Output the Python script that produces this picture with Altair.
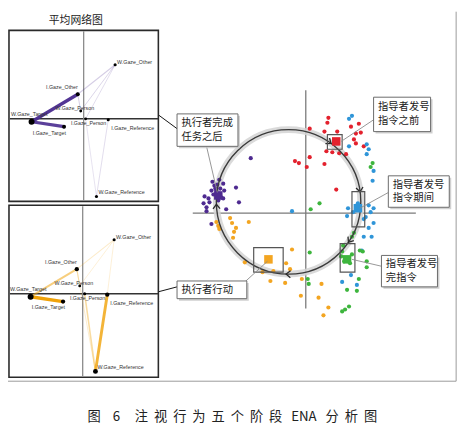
import math
import altair as alt
import pandas as pd

# ---------------- mean-network panels (ENA node positions, shared by both panels) ----------------
node_names = ["W.Gaze_Other", "I.Gaze_Other", "W.Gaze_Person", "W.Gaze_Target",
              "I.Gaze_Person", "I.Gaze_Reference", "I.Gaze_Target", "W.Gaze_Reference"]
node_x = [0.64, -0.12, -0.06, -1.06, 0.04, 0.50, -0.40, 0.26]
node_y = [1.10, 0.50, 0.16, -0.06, 0.00, -0.02, -0.16, -1.58]
node_w_top = [0.1, 0.3, 0.05, 1.0, 0.05, 0.1, 0.3, 0.1]
node_w_bottom = [0.1, 0.4, 0.05, 1.0, 0.1, 0.4, 0.4, 0.6]

# label placement (px offsets from node) - layout only
lab_dx = [2, 0, -6, -21, 3, 3, 2, 2]
lab_dy = [-3, -7, -3, -8, 4.5, 8, 6, -4]
lab_align = ["left", "right", "center", "left", "center", "left", "right", "left"]

# edges of the top (purple) network
top_from = ["W.Gaze_Target", "W.Gaze_Target", "I.Gaze_Other", "W.Gaze_Person", "I.Gaze_Person",
            "I.Gaze_Reference", "I.Gaze_Person", "I.Gaze_Other"]
top_to = ["I.Gaze_Other", "I.Gaze_Target", "W.Gaze_Other", "W.Gaze_Other", "W.Gaze_Other",
          "W.Gaze_Reference", "W.Gaze_Reference", "W.Gaze_Person"]
top_w = [0.9, 0.85, 0.14, 0.1, 0.08, 0.08, 0.06, 0.12]

# edges of the bottom (orange) network
bot_from = ["W.Gaze_Target", "W.Gaze_Target", "I.Gaze_Reference", "I.Gaze_Person", "I.Gaze_Other",
            "I.Gaze_Other", "I.Gaze_Reference", "W.Gaze_Person", "I.Gaze_Other"]
bot_to = ["I.Gaze_Target", "I.Gaze_Other", "W.Gaze_Reference", "W.Gaze_Reference", "W.Gaze_Other",
          "W.Gaze_Reference", "W.Gaze_Other", "W.Gaze_Other", "W.Gaze_Person"]
bot_w = [0.95, 0.45, 0.75, 0.3, 0.12, 0.1, 0.08, 0.08, 0.15]

# ---------------- five-stage ENA scatter ----------------
stage_names = ["指导者发号指令之前", "指导者发号指令期间", "指导者发号完指令", "执行者行动", "执行者完成任务之后"]
stage_colors = ["#e3212d", "#2f95d8", "#3db53d", "#f3a521", "#4e2a90"]

red_x = [0.23, 0.22, 0.04, 0.19, 0.32, 0.46, 0.54, 0.51, 0.56, 0.51, 0.59, 0.49, 0.27, 0.34, 0.41, 0.21,
         0.04, -0.11, -0.07, 0.01, 0.19, 0.31]
red_y = [0.97, 0.92, 0.86, 0.83, 0.83, 0.88, 0.91, 0.81, 0.82, 0.71, 0.68, 0.75, 0.62, 0.61, 0.60, 0.63,
         0.57, 0.53, 0.51, 0.47, 0.50, 0.24]
blue_x = [0.44, 0.47, 0.44, 0.62, 0.64, 0.62, 0.69, 0.68, -0.14, 0.64, 0.69, 0.66, 0.61, 0.69, 0.64, 0.67,
          0.59, 0.57, 0.42, 0.43, 0.37, 0.52, 0.46, 0.59, 0.53, 0.48]
blue_y = [0.96, 0.99, 0.68, 0.70, 0.65, 0.60, 0.43, 0.33, 0.02, 0.08, 0.05, 0.01, -0.04, -0.10, -0.15, -0.24,
          -0.24, -0.38, -0.03, 0.05, -0.70, -0.73, -0.63, -0.06, 0.10, 0.01]
green_x = [0.66, 0.68, 0.14, 0.05, 0.49, 0.47, 0.04, 0.55, 0.58, 0.62, 0.62, 0.54, 0.52, 0.42, 0.44, 0.37,
           0.40, 0.02, 0.03, 0.37, 0.39, 0.45, 0.36, 0.47, 0.38]
green_y = [0.47, 0.51, 0.10, 0.04, -0.20, -0.24, -0.40, -0.38, -0.39, -0.49, -0.55, -0.67, -0.79, -0.78,
           -0.95, -1.00, -0.98, -0.67, -0.72, -0.39, -0.49, -0.51, -0.44, -0.42, -0.33]
orange_x = [-0.91, -0.89, -0.88, -0.77, -0.75, -0.73, -0.74, -0.71, -0.58, -0.62, -0.44, -0.36, -0.33,
            -0.21, -0.20, -0.14, -0.04, -0.05, 0.13, 0.16, 0.23, 0.18, -0.16]
orange_y = [-0.09, -0.13, -0.16, -0.05, -0.10, -0.19, -0.25, -0.15, -0.09, -0.50, -0.60, -0.69, -0.59,
            -0.71, -0.51, -0.37, -0.67, -0.84, -0.86, -0.72, -0.96, -1.04, -0.57]
purple_x = [-0.56, -0.88, -0.84, -0.93, -0.96, -0.91, -0.88, -0.94, -0.86, -0.99, -1.04, -1.01, -1.01,
            -0.81, -0.71, -0.68, -0.96, -0.84, -0.89, -0.98, -0.92, -0.87, -0.83, -1.03, -0.90, -0.95]
purple_y = [0.56, 0.34, 0.30, 0.28, 0.23, 0.23, 0.20, 0.19, 0.16, 0.15, 0.10, 0.06, 0.02,
            0.04, 0.26, 0.11, -0.11, 0.15, 0.13, 0.11, 0.25, 0.25, 0.23, 0.17, 0.29, 0.32]

centroid_x = [0.31, 0.53, 0.42, -0.38, -0.89]
centroid_y = [0.73, 0.05, -0.47, -0.47, 0.18]

# boxes drawn around four of the stage centroids
cbox_x1 = [0.22, 0.47, 0.35, -0.53]
cbox_x2 = [0.37, 0.60, 0.50, -0.23]
cbox_y1 = [0.65, -0.14, -0.60, -0.60]
cbox_y2 = [0.80, 0.22, -0.31, -0.35]

# callout labels
callout_text = ["指导者发号\n指令之前", "指导者发号\n指令期间", "指导者发号\n完指令", "执行者完成\n任务之后", "执行者行动"]
callout_lines = [2, 2, 2, 2, 1]
callout_x1 = [0.69, 0.84, 0.77, -1.31, -1.31]
callout_x2 = [1.27, 1.46, 1.34, -0.69, -0.60]
callout_y1 = [1.18, 0.38, -0.43, 1.01, -0.69]
callout_y2 = [0.83, 0.06, -0.75, 0.68, -0.87]
leader_x1 = [0.69, 0.84, 0.77, -1.01, -0.62]
leader_y1 = [0.95, 0.21, -0.54, 0.68, -0.70]
leader_x2 = [0.36, 0.55, 0.47, -0.90, -0.39]
leader_y2 = [0.73, 0.05, -0.47, 0.21, -0.49]

# cyclic trajectory circle (centre / radius in scatter units) and arrow positions (deg, clockwise from top)
cycle_cx, cycle_cy, cycle_r = -0.175, 0.115, 0.735
arrow_theta = [36, 82, 124, 182, 268]

panel_title = "平均网络图"
SP = "\u00a0 "
caption_a = "图\u00a0\u00a0\u00a0\u00a06"
caption_b = SP.join("注视行为五个阶段") + "\u00a0\u00a0 ENA\u00a0\u00a0 " + SP.join("分析图")

# ---------------- layout helpers ----------------
W, H = 464, 429
xs = alt.Scale(domain=[8, 8 + W], nice=False, zero=False)
ys = alt.Scale(domain=[8, 8 + H], nice=False, zero=False, reverse=True)
FONT_CJK = "Noto Sans CJK SC"
FONT_LAT = "Liberation Sans"

NET_ORIGIN = [(85, 117), (84, 295)]
NET_BOX = [(9, 27, 161, 201), (9, 205, 161, 380)]
NET_SCALE = 50
SC_ORIGIN = (311, 213)
SC_SCALE = 100


def net_px(p, x, y):
    ox, oy = NET_ORIGIN[p]
    return ox + NET_SCALE * x, oy - NET_SCALE * y


def sc_px(x, y):
    return SC_ORIGIN[0] + SC_SCALE * x, SC_ORIGIN[1] - SC_SCALE * y


def PX(f="px"):
    return alt.X(f"{f}:Q", scale=xs, axis=None)


def PY(f="py"):
    return alt.Y(f"{f}:Q", scale=ys, axis=None)


layers = []

# outer frame + connector lines
frame = pd.DataFrame({
    "px": [464, 8, 161, 161], "py": [8, 384, 113, 293],
    "px2": [464, 464, 180, 180], "py2": [384, 384, 127, 288],
    "c": ["#9a9a9a", "#9a9a9a", "#111111", "#111111"],
})
layers.append(alt.Chart(frame).mark_rule(strokeWidth=1).encode(
    x=PX(), y=PY(), x2="px2:Q", y2="py2:Q", color=alt.Color("c:N", scale=None)))

# network panels
net_colors = ["#4a2c8f", "#f0a30a"]
edge_sets = [(top_from, top_to, top_w), (bot_from, bot_to, bot_w)]
node_ws = [node_w_top, node_w_bottom]
for p in range(2):
    x1, y1, x2, y2 = NET_BOX[p]
    ox, oy = NET_ORIGIN[p]
    box = pd.DataFrame({"px": [x1], "py": [y1], "px2": [x2], "py2": [y2]})
    layers.append(alt.Chart(box).mark_rect(fill="white", stroke="#2a2a2a", strokeWidth=1.6).encode(
        x=PX(), y=PY(), x2="px2:Q", y2="py2:Q"))
    axes = pd.DataFrame({"px": [x1 + 1, ox], "py": [oy, y1 + 1], "px2": [x2, ox], "py2": [oy, y2 - 1],
                         "c": ["#333333", "#8a8a8a"], "w": [1.6, 1.3]})
    layers.append(alt.Chart(axes).mark_rule().encode(
        x=PX(), y=PY(), x2="px2:Q", y2="py2:Q", color=alt.Color("c:N", scale=None),
        strokeWidth=alt.StrokeWidth("w:Q", scale=None)))
    fr, to, wt = edge_sets[p]
    rows = []
    for a, b, w in zip(fr, to, wt):
        ia, ib = node_names.index(a), node_names.index(b)
        ax_, ay_ = net_px(p, node_x[ia], node_y[ia])
        bx_, by_ = net_px(p, node_x[ib], node_y[ib])
        rows.append({"px": ax_, "py": ay_, "px2": bx_, "py2": by_,
                     "sw": 0.7 + 3.0 * w, "op": min(1.0, 0.1 + 0.95 * w), "w": w})
    edges = pd.DataFrame(rows).sort_values("w")
    layers.append(alt.Chart(edges).mark_rule(color=net_colors[p], strokeCap="round").encode(
        x=PX(), y=PY(), x2="px2:Q", y2="py2:Q",
        strokeWidth=alt.StrokeWidth("sw:Q", scale=None), opacity=alt.Opacity("op:Q", scale=None)))
    nrows = []
    for i, n in enumerate(node_names):
        nx, ny = net_px(p, node_x[i], node_y[i])
        nrows.append({"px": nx, "py": ny, "lx": nx + lab_dx[i], "ly": ny + lab_dy[i], "label": n,
                      "align": lab_align[i], "s": 7 + 30 * node_ws[p][i]})
    nodes = pd.DataFrame(nrows)
    layers.append(alt.Chart(nodes).mark_point(filled=True, color="black", opacity=1).encode(
        x=PX(), y=PY(), size=alt.Size("s:Q", scale=None)))
    for al in ["left", "right", "center"]:
        layers.append(alt.Chart(nodes).transform_filter(alt.datum.align == al).mark_text(
            align=al, baseline="middle", fontSize=5.4, font=FONT_LAT, color="#333333").encode(
            x=PX("lx"), y=PY("ly"), text="label:N"))

layers.append(alt.Chart(pd.DataFrame({"px": [77], "py": [18], "t": [panel_title]})).mark_text(
    fontSize=11, font=FONT_CJK, color="#222222", baseline="middle").encode(x=PX(), y=PY(), text="t:N"))

# scatter axes
sax = pd.DataFrame({"px": [196, SC_ORIGIN[0]], "py": [SC_ORIGIN[1], 88],
                    "px2": [423, SC_ORIGIN[0]], "py2": [SC_ORIGIN[1], 310]})
layers.append(alt.Chart(sax).mark_rule(color="#7a7a7a", strokeWidth=1.3).encode(
    x=PX(), y=PY(), x2="px2:Q", y2="py2:Q"))

# ring: light band (Vega circle symbol: diameter = sqrt(size))
ccx, ccy = sc_px(cycle_cx, cycle_cy)
ring = pd.DataFrame({"px": [ccx], "py": [ccy]})
ring_size = (2 * cycle_r * SC_SCALE) ** 2
layers.append(alt.Chart(ring).mark_point(shape="circle", filled=False, size=ring_size, stroke="#d4d4d4",
                                         strokeWidth=7, opacity=0.85).encode(x=PX(), y=PY()))

# scatter points
pts = []
for name, xl, yl in zip(stage_names, [red_x, blue_x, green_x, orange_x, purple_x],
                        [red_y, blue_y, green_y, orange_y, purple_y]):
    for x, y in zip(xl, yl):
        px, py = sc_px(x, y)
        pts.append({"stage": name, "px": px, "py": py})
pts = pd.DataFrame(pts)
cscale = alt.Scale(domain=stage_names, range=stage_colors)
layers.append(alt.Chart(pts).mark_circle(size=18, opacity=1).encode(
    x=PX(), y=PY(), color=alt.Color("stage:N", scale=cscale, legend=None)))

# ring: dark line
layers.append(alt.Chart(ring).mark_point(shape="circle", filled=False, size=ring_size, stroke="#3a3a3a",
                                         strokeWidth=1.4, opacity=1).encode(x=PX(), y=PY()))

# arrowheads on the ring
arr = []
for t in arrow_theta:
    ux = cycle_cx + cycle_r * math.sin(math.radians(t))
    uy = cycle_cy + cycle_r * math.cos(math.radians(t))
    px, py = sc_px(ux, uy)
    arr.append({"px": px, "py": py, "ang": t})
arr = pd.DataFrame(arr)
layers.append(alt.Chart(arr).mark_point(shape="M -1 -0.8 L 0 0 L -1 0.8", filled=False, size=80,
                                        stroke="#2a2a2a", strokeWidth=1.3, opacity=1).encode(
    x=PX(), y=PY(), angle=alt.Angle("ang:Q", scale=None)))

# centroid boxes
cb = []
for a, b, c, d in zip(cbox_x1, cbox_x2, cbox_y1, cbox_y2):
    p1 = sc_px(a, c)
    p2 = sc_px(b, d)
    cb.append({"px": p1[0], "py": p1[1], "px2": p2[0], "py2": p2[1]})
layers.append(alt.Chart(pd.DataFrame(cb)).mark_rect(fillOpacity=0, stroke="#555555", strokeWidth=1.2).encode(
    x=PX(), y=PY(), x2="px2:Q", y2="py2:Q"))

# centroid squares
cen = []
for name, x, y in zip(stage_names, centroid_x, centroid_y):
    px, py = sc_px(x, y)
    cen.append({"stage": name, "px": px, "py": py})
layers.append(alt.Chart(pd.DataFrame(cen)).mark_square(size=75, opacity=1).encode(
    x=PX(), y=PY(), color=alt.Color("stage:N", scale=cscale, legend=None)))

# leader lines
ld = []
for a, b, c, d in zip(leader_x1, leader_y1, leader_x2, leader_y2):
    p1 = sc_px(a, b)
    p2 = sc_px(c, d)
    ld.append({"px": p1[0], "py": p1[1], "px2": p2[0], "py2": p2[1]})
layers.append(alt.Chart(pd.DataFrame(ld)).mark_rule(color="#8a8a8a", strokeWidth=0.9).encode(
    x=PX(), y=PY(), x2="px2:Q", y2="py2:Q"))

# callout boxes with shadow and text
LH = 14
co = []
for t, n, a, b, c, d in zip(callout_text, callout_lines, callout_x1, callout_x2, callout_y1, callout_y2):
    p1 = sc_px(a, c)
    p2 = sc_px(b, d)
    co.append({"t": t, "px": p1[0], "py": p1[1], "px2": p2[0], "py2": p2[1],
               "sx": p1[0] + 2, "sy": p1[1] + 2, "sx2": p2[0] + 2, "sy2": p2[1] + 2,
               "tx": p1[0] + 4.5, "ty": (p1[1] + p2[1]) / 2 - (n - 1) * LH / 2})
co = pd.DataFrame(co)
layers.append(alt.Chart(co).mark_rect(fill="#c4c4c4", opacity=0.8).encode(
    x=PX("sx"), y=PY("sy"), x2="sx2:Q", y2="sy2:Q"))
layers.append(alt.Chart(co).mark_rect(fill="white", stroke="#6a6a6a", strokeWidth=1).encode(
    x=PX(), y=PY(), x2="px2:Q", y2="py2:Q"))
layers.append(alt.Chart(co).mark_text(fontSize=10.5, font=FONT_CJK, color="#1a1a1a", lineBreak="\n",
                                      lineHeight=LH, align="left", baseline="middle").encode(
    x=PX("tx"), y=PY("ty"), text="t:N"))

# caption
cap = pd.DataFrame({"px": [89, 137], "py": [420, 420], "t": [caption_a, caption_b]})
layers.append(alt.Chart(cap).mark_text(fontSize=13.5, font=FONT_CJK, color="#222222", align="left",
                                       baseline="middle").encode(x=PX(), y=PY(), text="t:N"))

chart = alt.layer(*layers).properties(width=W, height=H, padding=0, autosize="none",
                                      background="white").configure_view(stroke=None)
chart.save("out.html", embed_options={"renderer": "svg", "actions": False})
